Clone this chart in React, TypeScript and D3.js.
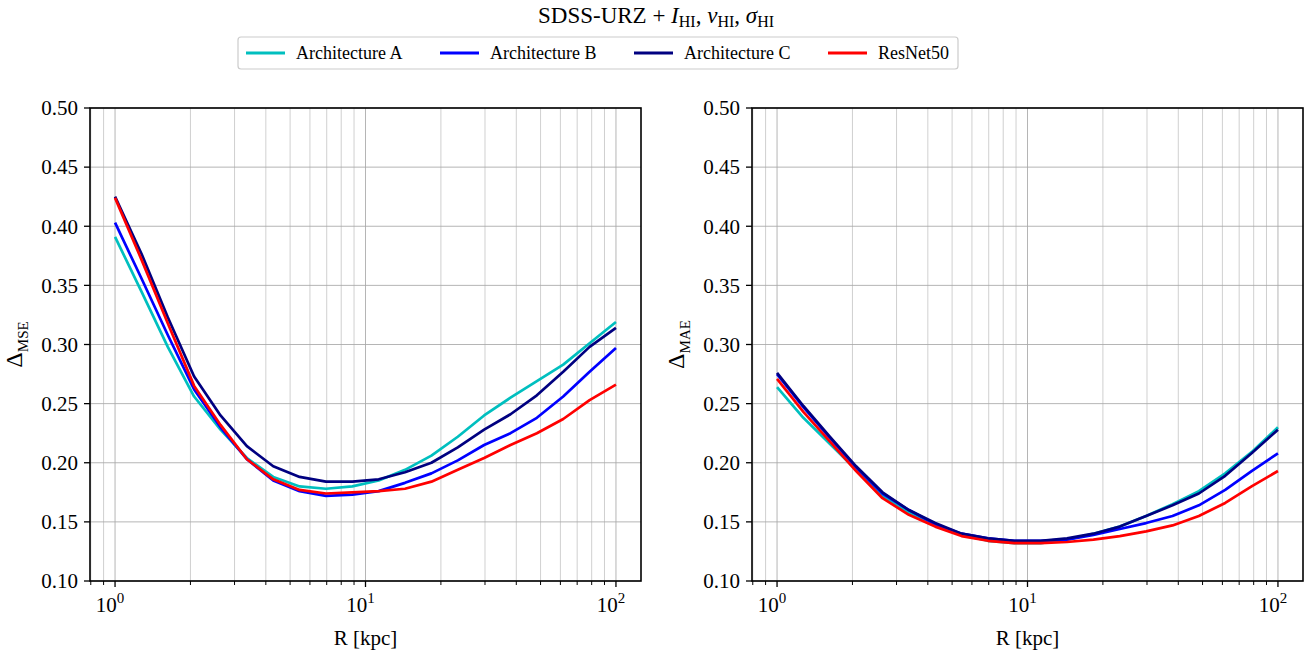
import React from "react";
import * as d3 from "d3";

const radii = [1, 1.274, 1.624, 2.069, 2.637, 3.360, 4.281, 5.456, 6.952, 8.859, 11.29, 14.38, 18.33, 23.36, 29.76, 37.93, 48.33, 61.58, 78.48, 100];

const mseArchA = [0.391, 0.345, 0.298, 0.256, 0.228, 0.204, 0.188, 0.180, 0.178, 0.180, 0.185, 0.194, 0.206, 0.222, 0.240, 0.255, 0.269, 0.283, 0.301, 0.319];
const mseArchB = [0.403, 0.356, 0.308, 0.262, 0.230, 0.203, 0.185, 0.176, 0.172, 0.173, 0.176, 0.183, 0.191, 0.202, 0.215, 0.225, 0.238, 0.256, 0.277, 0.297];
const mseArchC = [0.425, 0.377, 0.323, 0.273, 0.240, 0.214, 0.197, 0.188, 0.184, 0.184, 0.186, 0.192, 0.200, 0.213, 0.228, 0.241, 0.257, 0.277, 0.298, 0.314];
const mseResNet = [0.424, 0.372, 0.318, 0.265, 0.232, 0.203, 0.186, 0.177, 0.174, 0.175, 0.176, 0.178, 0.184, 0.194, 0.204, 0.215, 0.225, 0.237, 0.253, 0.266];

const maeArchA = [0.264, 0.238, 0.216, 0.194, 0.172, 0.158, 0.147, 0.139, 0.134, 0.132, 0.132, 0.135, 0.140, 0.146, 0.155, 0.165, 0.176, 0.191, 0.209, 0.230];
const maeArchB = [0.275, 0.247, 0.221, 0.196, 0.174, 0.160, 0.148, 0.140, 0.136, 0.134, 0.134, 0.135, 0.139, 0.144, 0.149, 0.155, 0.164, 0.177, 0.193, 0.208];
const maeArchC = [0.276, 0.248, 0.222, 0.197, 0.175, 0.160, 0.149, 0.140, 0.136, 0.134, 0.134, 0.136, 0.140, 0.146, 0.155, 0.164, 0.174, 0.189, 0.208, 0.228];
const maeResNet = [0.271, 0.243, 0.218, 0.193, 0.170, 0.156, 0.146, 0.138, 0.134, 0.132, 0.132, 0.133, 0.135, 0.138, 0.142, 0.147, 0.155, 0.166, 0.180, 0.193];

const seriesNames = ["Architecture A", "Architecture B", "Architecture C", "ResNet50"];
const seriesColors = ["#00bfbf", "#0000ff", "#000080", "#ff0000"];
const yTicks = [0.10, 0.15, 0.20, 0.25, 0.30, 0.35, 0.40, 0.45, 0.50];
const xMajorTicks = [1, 10, 100];
const xMajorExponents = ["0", "1", "2"];
const xMinorTicks = [0.8, 0.9, 2, 3, 4, 5, 6, 7, 8, 9, 20, 30, 40, 50, 60, 70, 80, 90, 200, 300, 400, 500, 600, 700, 800, 900];

const FONT = "'Liberation Serif', 'Times New Roman', serif";

type PanelProps = { left: number; series: number[][]; sub: string };

function Panel({ left, series, sub }: PanelProps) {
  const top = 108;
  const bottom = 581;
  const width = 551;
  const x = d3.scaleLog().domain([Math.pow(10, -0.1), Math.pow(10, 2.1)]).range([left, left + width]);
  const y = d3.scaleLinear().domain([0.1, 0.5]).range([bottom, top]);
  const line = d3
    .line<number>()
    .x((_, i) => x(radii[i]))
    .y((d) => y(d));
  const minors = xMinorTicks.filter((t) => x(t) >= left - 0.5 && x(t) <= left + width + 0.5);
  return (
    <g>
      <defs>
        <clipPath id={"clip" + left}>
          <rect x={left} y={top} width={width} height={bottom - top} />
        </clipPath>
      </defs>
      {minors.map((t) => (
        <line key={"mg" + t} x1={x(t)} x2={x(t)} y1={top} y2={bottom} stroke="#b0b0b0" strokeOpacity={0.6} strokeWidth={1} />
      ))}
      {xMajorTicks.map((t) => (
        <line key={"Mg" + t} x1={x(t)} x2={x(t)} y1={top} y2={bottom} stroke="#a8a8a8" strokeOpacity={0.85} strokeWidth={1} />
      ))}
      {yTicks.map((t) => (
        <line key={"yg" + t} x1={left} x2={left + width} y1={y(t)} y2={y(t)} stroke="#a8a8a8" strokeOpacity={0.85} strokeWidth={1} />
      ))}
      <g clipPath={`url(#clip${left})`}>
        {series.map((s, i) => (
          <path key={i} d={line(s) || ""} fill="none" stroke={seriesColors[i]} strokeWidth={2.7} strokeLinejoin="round" strokeLinecap="butt" />
        ))}
      </g>
      <rect x={left} y={top} width={width} height={bottom - top} fill="none" stroke="#000" strokeWidth={1.6} />
      {yTicks.map((t) => (
        <g key={"yt" + t}>
          <line x1={left - 6} x2={left} y1={y(t)} y2={y(t)} stroke="#000" strokeWidth={1.3} />
          <text x={left - 12} y={y(t)} dy="0.35em" textAnchor="end" fontSize={21} fontFamily={FONT}>
            {t.toFixed(2)}
          </text>
        </g>
      ))}
      {minors.map((t) => (
        <line key={"mt" + t} x1={x(t)} x2={x(t)} y1={bottom} y2={bottom + 4} stroke="#000" strokeWidth={1} />
      ))}
      {xMajorTicks.map((t, i) => (
        <g key={"xt" + t}>
          <line x1={x(t)} x2={x(t)} y1={bottom} y2={bottom + 6} stroke="#000" strokeWidth={1.3} />
          <text x={x(t) - 5} y={bottom + 31} textAnchor="middle" fontSize={21} fontFamily={FONT}>
            10
            <tspan fontSize={15} dy={-9}>{xMajorExponents[i]}</tspan>
          </text>
        </g>
      ))}
      <text x={left + width / 2} y={645} textAnchor="middle" fontSize={21} fontFamily={FONT}>
        R [kpc]
      </text>
      <text transform={`translate(${left - 68},${(top + bottom) / 2}) rotate(-90)`} textAnchor="middle" fontSize={24} fontFamily={FONT}>
        Δ
        <tspan fontSize={15} dy={6}>{sub}</tspan>
      </text>
    </g>
  );
}

export default function App() {
  const legendX = 238;
  const legendSpacing = 194;
  return (
    <svg width={1312} height={658} style={{ position: "absolute", left: 0, top: 0, background: "#fff" }}>
      <rect x={0} y={0} width={1312} height={658} fill="#fff" />
      <text x={656} y={23} textAnchor="middle" fontSize={23} fontFamily={FONT}>
        SDSS-URZ +{" "}
        <tspan fontStyle="italic">I</tspan>
        <tspan fontSize={16} dy={4}>HI</tspan>
        <tspan dy={-4}>, </tspan>
        <tspan fontStyle="italic">v</tspan>
        <tspan fontSize={16} dy={4}>HI</tspan>
        <tspan dy={-4}>, </tspan>
        <tspan fontStyle="italic">σ</tspan>
        <tspan fontSize={16} dy={4}>HI</tspan>
      </text>
      <rect x={legendX} y={37} width={720} height={32} rx={3} fill="#fff" fillOpacity={0.8} stroke="#cccccc" strokeWidth={1.2} />
      {seriesNames.map((name, i) => {
        const x0 = legendX + 8 + i * legendSpacing;
        return (
          <g key={name}>
            <line x1={x0} x2={x0 + 39} y1={53} y2={53} stroke={seriesColors[i]} strokeWidth={3} />
            <text x={x0 + 50} y={53} dy="0.35em" fontSize={18} fontFamily={FONT}>
              {name}
            </text>
          </g>
        );
      })}
      <Panel left={90} series={[mseArchA, mseArchB, mseArchC, mseResNet]} sub="MSE" />
      <Panel left={752} series={[maeArchA, maeArchB, maeArchC, maeResNet]} sub="MAE" />
    </svg>
  );
}
